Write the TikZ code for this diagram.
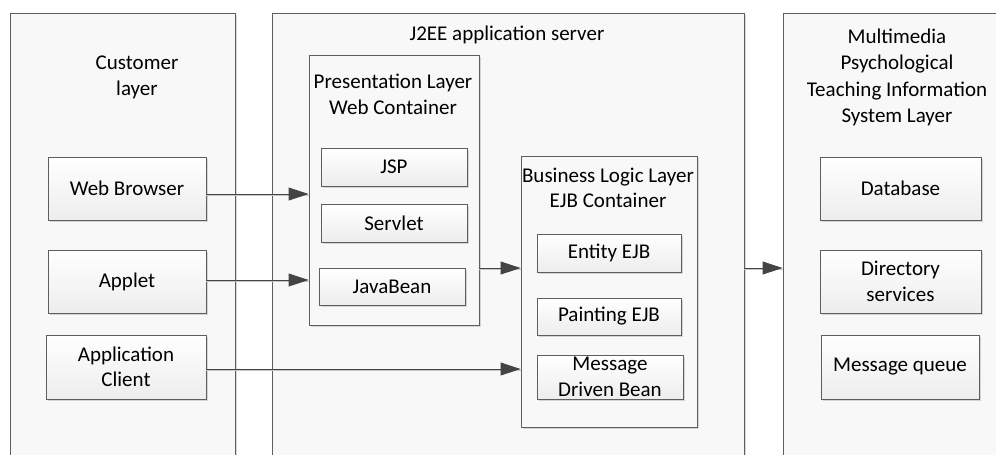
\documentclass[tikz,border=0pt]{standalone}
\usepackage{fontspec}
\setmainfont{Carlito}
\usetikzlibrary{arrows.meta,shadows}
\definecolor{edge}{HTML}{5E5E5E}
\definecolor{panel}{HTML}{F8F8F8}
\definecolor{wire}{HTML}{444444}
\begin{document}
\begin{tikzpicture}[x=1pt,y=-1pt,
  every node/.style={font=\fontsize{21}{25.5}\selectfont, text=black, align=center, inner sep=0pt},
  shade/.style={drop shadow={shadow xshift=2pt, shadow yshift=-2pt, fill=black!30, opacity=0.5}},
  layer/.style={draw=edge, line width=0.9pt, fill=panel, shade},
  item/.style={draw=edge, line width=0.9pt, top color=white, bottom color=black!7, shade},
  arr/.style={draw=wire, line width=1pt, -{Triangle[length=20pt,width=13pt]},
    preaction={-, draw=black!22, line width=1pt, transform canvas={yshift=-1.5pt}}}]
\useasboundingbox (0,0) rectangle (996,455);
\clip (0,0) rectangle (996,455);

% three tiers
\node[layer, minimum width=225pt, minimum height=457pt] (cust) at (122.5,241.5) {};
\node[layer, minimum width=472pt, minimum height=457pt] (j2ee) at (508,241.5) {};
\node[layer, minimum width=240pt, minimum height=457pt] (mm) at (903,241.5) {};

\node (custT) at (137,77.5) {Customer\\layer};
\node (j2eeT) at (507,35) {J2EE application server};
\node[font=\fontsize{21}{26.3}\selectfont] (mmT) at (897,77.5) {Multimedia\\Psychological\\Teaching Information\\System Layer};

% client tier
\node[item, minimum width=158pt, minimum height=63pt] (web) at (127,188.5) {Web Browser};
\node[item, minimum width=158pt, minimum height=63pt] (applet) at (127,281.5) {Applet};
\node[item, minimum width=160pt, minimum height=64pt] (appc) at (126,367) {Application\\Client};

% web container
\node[layer, minimum width=170pt, minimum height=270pt] (pres) at (394,190) {};
\node (presT) at (393,94.5) {Presentation Layer\\Web Container};
\node[item, minimum width=146pt, minimum height=38pt] (jsp) at (394,167) {JSP};
\node[item, minimum width=146pt, minimum height=38pt] (servlet) at (394,223) {Servlet};
\node[item, minimum width=146pt, minimum height=37pt] (jbean) at (392,286.5) {JavaBean};

% EJB container
\node[layer, minimum width=176pt, minimum height=271pt] (biz) at (609,291.5) {};
\node (bizT) at (608,188) {Business Logic Layer\\EJB Container};
\node[item, minimum width=144pt, minimum height=38pt] (entity) at (609,253) {Entity EJB};
\node[item, minimum width=144pt, minimum height=37pt] (paint) at (609,316.5) {Painting EJB};
\node[item, minimum width=146pt, minimum height=44pt,
  label={[name=mdbT]center:Message\\Driven Bean}] (mdb) at (610,377) {};

% information system tier
\node[item, minimum width=161pt, minimum height=63pt] (db) at (900.5,188.5) {Database};
\node[item, minimum width=161pt, minimum height=63pt] (dir) at (900.5,281.5) {Directory\\services};
\node[item, minimum width=158pt, minimum height=64pt] (mq) at (900,367) {Message queue};

% connectors
\draw[arr] (web.east |- 0,194) -- (pres.west |- 0,194);
\draw[arr] (applet.east |- 0,280) -- (pres.west |- 0,280);
\draw[arr] (appc.east |- 0,369) -- (biz.west |- 0,369);
\draw[arr] (pres.east |- 0,268) -- (biz.west |- 0,268);
\draw[arr] (j2ee.east |- 0,268) -- (mm.west |- 0,268);
\end{tikzpicture}
\end{document}
